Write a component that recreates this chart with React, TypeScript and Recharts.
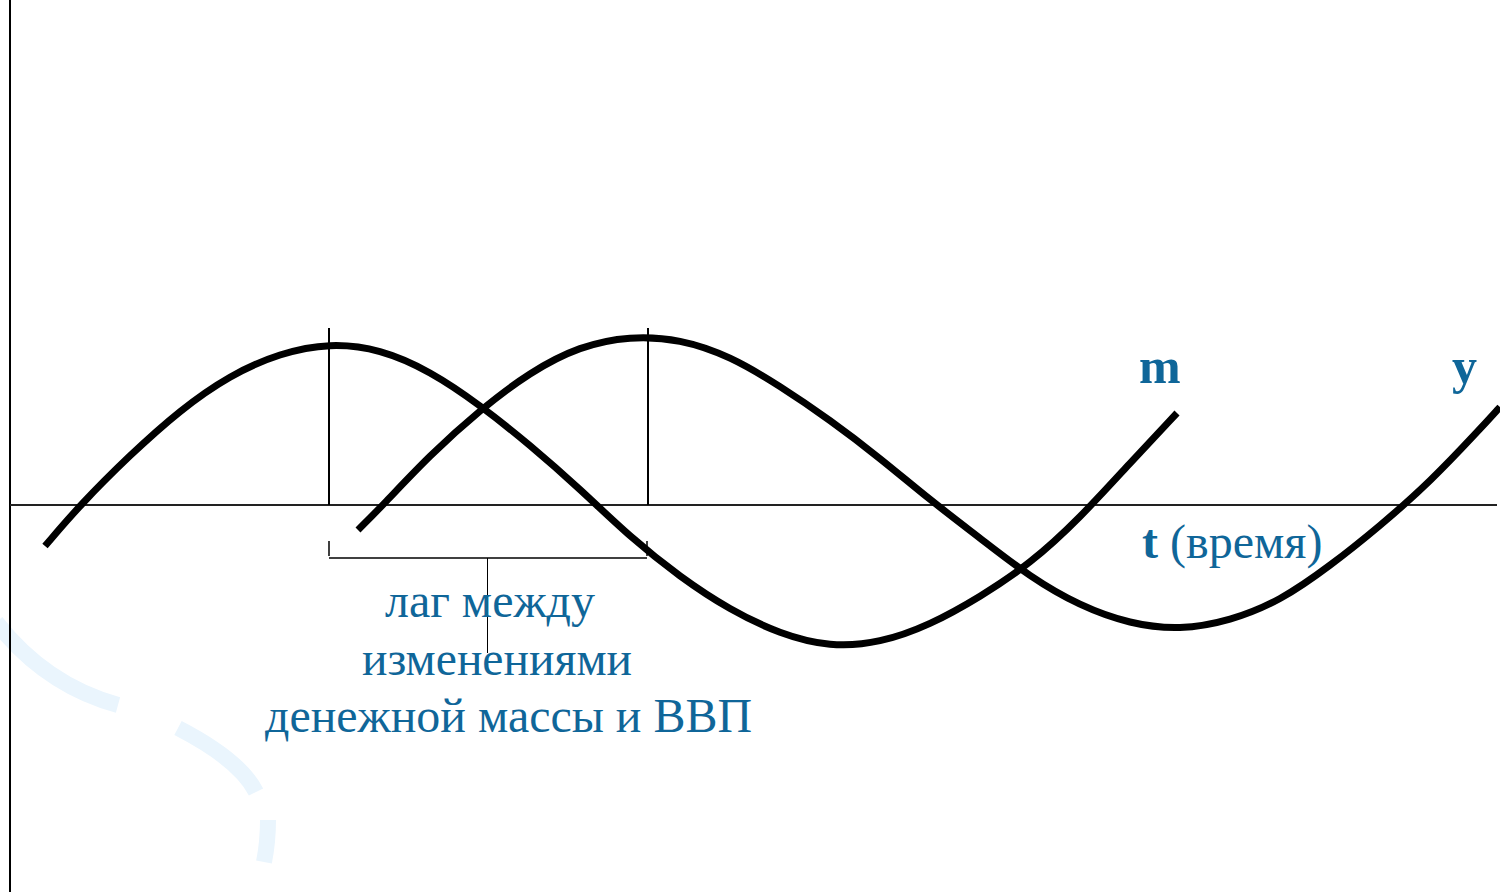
import { ComposedChart, Line, ReferenceLine, XAxis, YAxis } from 'recharts'

// time (t) and deviation from trend
const mTime = [35, 70, 120, 170, 220, 270, 320, 370, 420, 470, 520, 570, 620, 670, 720, 770, 820, 870, 920, 970, 1020, 1070, 1120, 1167]
const mValue = [-41, 0, 50, 95, 130, 152, 162, 156, 134, 100, 60, 16, -32, -72, -105, -129, -142, -138, -120, -92, -59, -13, 42, 92]

const yTime = [348, 373, 420, 470, 520, 570, 620, 670, 720, 770, 820, 870, 920, 970, 1020, 1070, 1120, 1170, 1220, 1270, 1320, 1370, 1420, 1470, 1490]
const yValue = [-25, 0, 50, 95, 133, 159, 169, 166, 149, 119, 85, 47, 5, -33, -72, -101, -119, -125, -116, -96, -61, -21, 23, 76, 98]

const mPeak = 319
const yPeak = 638
const peakLevel = 177

const lagLines = ['лаг между', 'изменениями', 'денежной массы и ВВП']

const mData = mTime.map((t, i) => ({ t, v: mValue[i] }))
const yData = yTime.map((t, i) => ({ t, v: yValue[i] }))

const W = 1500
const H = 892
const blue = '#0f6699'
const serif = '"Liberation Serif", "Times New Roman", serif'

export default function App() {
  const mid = (mPeak + yPeak) / 2
  return (
    <div style={{ position: 'absolute', left: 0, top: 0, width: W, height: H, background: '#fff' }}>
      {/* faint slide watermark */}
      <svg width={W} height={H} style={{ position: 'absolute', left: 0, top: 0 }}>
        <g fill="none" stroke="#eaf5fd" strokeWidth={16}>
          <path d="M -4 622 Q 45 685 118 705" />
          <path d="M 178 728 Q 240 760 256 792" />
          <path d="M 268 820 Q 268 842 264 862" />
        </g>
      </svg>
      <div style={{ position: 'absolute', left: 0, top: 0 }}>
        <ComposedChart width={W} height={H} margin={{ top: 0, right: 0, bottom: 0, left: 0 }}>
          <XAxis type="number" dataKey="t" domain={[-10, 1490]} hide allowDataOverflow />
          <YAxis type="number" dataKey="v" domain={[-387, 505]} hide allowDataOverflow />
          {/* axes */}
          <ReferenceLine x={0} stroke="#000" strokeWidth={2} />
          <ReferenceLine segment={[{ x: 0, y: 0 }, { x: 1487, y: 0 }]} stroke="#222" strokeWidth={2} />
          {/* peak markers */}
          <ReferenceLine segment={[{ x: mPeak, y: 0 }, { x: mPeak, y: peakLevel }]} stroke="#000" strokeWidth={2} />
          <ReferenceLine segment={[{ x: yPeak, y: 0 }, { x: yPeak, y: peakLevel }]} stroke="#000" strokeWidth={2} />
          {/* brace */}
          <ReferenceLine segment={[{ x: mPeak, y: -36 }, { x: mPeak, y: -51 }]} stroke="#000" strokeWidth={1.5} />
          <ReferenceLine segment={[{ x: mPeak, y: -53 }, { x: yPeak - 1, y: -53 }]} stroke="#000" strokeWidth={1.5} />
          <ReferenceLine segment={[{ x: yPeak - 1, y: -36 }, { x: yPeak - 1, y: -51 }]} stroke="#000" strokeWidth={1.5} />
          <ReferenceLine segment={[{ x: mid - 1, y: -53 }, { x: mid - 1, y: -148 }]} stroke="#000" strokeWidth={1} />
          <Line data={mData} dataKey="v" type="basis" stroke="#000" strokeWidth={7} strokeLinecap="butt" dot={false} activeDot={false} isAnimationActive={false} />
          <Line data={yData} dataKey="v" type="basis" stroke="#000" strokeWidth={7} strokeLinecap="butt" dot={false} activeDot={false} isAnimationActive={false} />
        </ComposedChart>
      </div>
      <svg width={W} height={H} style={{ position: 'absolute', left: 0, top: 0, pointerEvents: 'none' }}>
        <g fill={blue} fontFamily={serif} fontSize={48}>
          <text x={385} y={617} textLength={210} lengthAdjust="spacingAndGlyphs">{lagLines[0]}</text>
          <text x={362} y={675} textLength={270} lengthAdjust="spacingAndGlyphs">{lagLines[1]}</text>
          <text x={265} y={732} textLength={487} lengthAdjust="spacingAndGlyphs">{lagLines[2]}</text>
          <text x={1139} y={383} fontWeight="bold" fontSize={50}>m</text>
          <text x={1452} y={383} fontWeight="bold" fontSize={50}>y</text>
          <text x={1142} y={558}>
            <tspan fontWeight="bold">t</tspan>
            <tspan> (время)</tspan>
          </text>
        </g>
      </svg>
    </div>
  )
}
